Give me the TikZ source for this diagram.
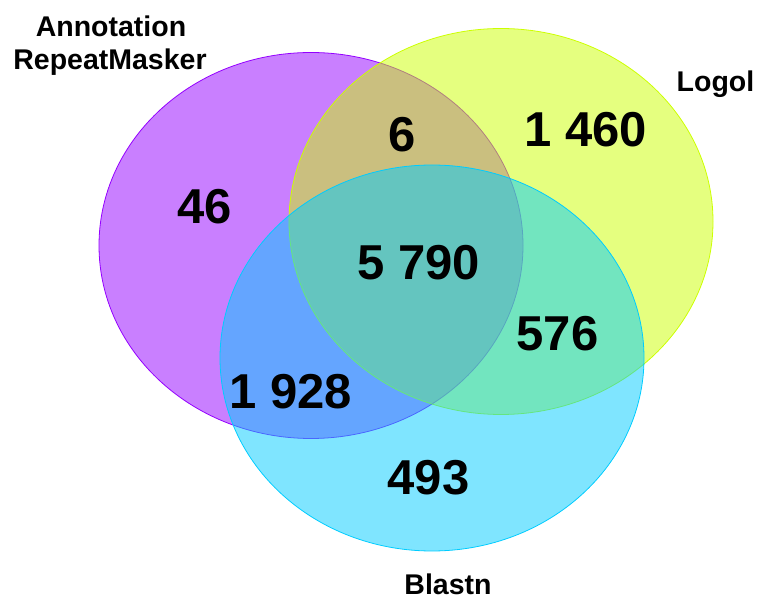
\documentclass[tikz,border=0pt]{standalone}
\usepackage{fontspec}
\setmainfont{Liberation Sans}
\usetikzlibrary{shapes.geometric}
\definecolor{cpurple}{RGB}{148,0,255}
\definecolor{cyellow}{RGB}{204,255,0}
\definecolor{ccyan}{RGB}{0,204,255}
\begin{document}
\begin{tikzpicture}[x=1pt,y=-1pt,
  setcircle/.style={ellipse, inner sep=0pt, minimum width=424pt, minimum height=386pt, fill opacity=0.5, line width=0.8pt},
  count/.style={font=\fontsize{49}{49}\selectfont\bfseries, inner sep=0pt},
  setlabel/.style={font=\fontsize{28.5}{30}\selectfont\bfseries, inner sep=0pt, anchor=base}]
\useasboundingbox (0,0) rectangle (758,601);
\node[setcircle, draw=cpurple, fill=cpurple] (A) at (311,245.5) {};
\node[setcircle, draw=cyellow, fill=cyellow] (B) at (501,221.5) {};
\node[setcircle, draw=ccyan, fill=ccyan] (C) at (432,358) {};
\node[count] (nA) at (204.5,206.5) {46};
\node[count] (nAB) at (402,134.5) {6};
\node[count] (nB) at (585.5,130) {1 460};
\node[count] (nABC) at (418.5,263) {5 790};
\node[count] (nBC) at (557.5,334) {576};
\node[count] (nAC) at (290.5,392) {1 928};
\node[count] (nC) at (428.5,477.5) {493};
\node[setlabel] (lA1) at (111,37) {Annotation};
\node[setlabel] (lA2) at (110,70) {RepeatMasker};
\node[setlabel] (lB) at (715.5,92) {Logol};
\node[setlabel] (lC) at (448,594.5) {Blastn};
\end{tikzpicture}
\end{document}
